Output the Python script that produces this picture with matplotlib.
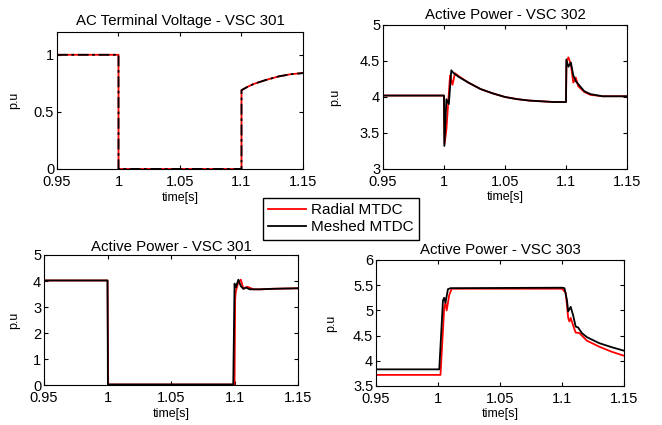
import matplotlib
matplotlib.use("Agg")
import matplotlib.pyplot as plt

plt.rcParams['font.family'] = ['Liberation Sans', 'DejaVu Sans']

# AC terminal voltage - VSC 301 (both cases identical)
t_v = [0.95, 1.0, 1.0, 1.1, 1.1, 1.105, 1.11, 1.12, 1.13, 1.14, 1.15]
v_radial = [1.0, 1.0, 0.0, 0.0, 0.69, 0.72, 0.745, 0.78, 0.81, 0.83, 0.84]
v_meshed = [1.0, 1.0, 0.0, 0.0, 0.69, 0.72, 0.745, 0.78, 0.81, 0.83, 0.84]

# Active power - VSC 302
t_302_r = [0.95, 1.0, 1.0005, 1.002, 1.005, 1.007, 1.009, 1.012, 1.02, 1.03, 1.04, 1.05,
           1.06, 1.07, 1.08, 1.09, 1.1, 1.1005, 1.102, 1.104, 1.106, 1.108, 1.11,
           1.115, 1.12, 1.13, 1.15]
p_302_r = [4.02, 4.02, 3.35, 3.55, 4.3, 4.17, 4.33, 4.29, 4.2, 4.11, 4.05, 4.0,
           3.97, 3.95, 3.94, 3.93, 3.93, 4.5, 4.55, 4.45, 4.2, 4.27, 4.15,
           4.07, 4.03, 4.01, 4.01]
t_302_m = [0.95, 1.0, 1.0003, 1.002, 1.004, 1.006, 1.008, 1.012, 1.02, 1.03, 1.04, 1.05,
           1.06, 1.07, 1.08, 1.09, 1.1, 1.1003, 1.102, 1.104, 1.106, 1.108, 1.11,
           1.115, 1.12, 1.13, 1.15]
p_302_m = [4.02, 4.02, 3.32, 3.97, 3.9, 4.37, 4.33, 4.28, 4.2, 4.11, 4.05, 4.0,
           3.97, 3.95, 3.94, 3.93, 3.93, 4.52, 4.42, 4.48, 4.3, 4.22, 4.18,
           4.08, 4.04, 4.01, 4.01]

# Active power - VSC 301
t_301_r = [0.95, 1.0, 1.0005, 1.1, 1.1005, 1.101, 1.103, 1.105, 1.107, 1.11, 1.115,
           1.12, 1.13, 1.15]
p_301_r = [4.02, 4.02, 0.02, 0.02, 3.3, 3.6, 3.95, 4.05, 3.7, 3.78, 3.68,
           3.68, 3.7, 3.72]
t_301_m = [0.95, 1.0, 1.0003, 1.099, 1.1, 1.101, 1.103, 1.105, 1.107, 1.109, 1.112,
           1.12, 1.13, 1.15]
p_301_m = [4.02, 4.02, 0.02, 0.02, 3.9, 3.75, 4.05, 3.8, 3.7, 3.75, 3.68,
           3.68, 3.7, 3.72]

# Active power - VSC 303
t_303_r = [0.95, 1.002, 1.005, 1.006, 1.007, 1.009, 1.011, 1.1, 1.103, 1.105, 1.106,
           1.107, 1.109, 1.111, 1.114, 1.12, 1.13, 1.14, 1.15]
p_303_r = [3.72, 3.72, 5.05, 5.15, 5.0, 5.3, 5.43, 5.43, 5.35, 4.85, 4.78,
           4.85, 4.7, 4.56, 4.55, 4.4, 4.28, 4.18, 4.1]
t_303_m = [0.95, 1.001, 1.004, 1.005, 1.006, 1.008, 1.01, 1.1, 1.102, 1.104, 1.105,
           1.107, 1.109, 1.111, 1.113, 1.116, 1.12, 1.13, 1.14, 1.15]
p_303_m = [3.83, 3.83, 5.2, 5.25, 5.15, 5.42, 5.44, 5.45, 5.44, 5.2, 4.98,
           5.07, 4.9, 4.68, 4.66, 4.55, 4.47, 4.35, 4.27, 4.2]

xticks = [0.95, 1.0, 1.05, 1.1, 1.15]
xticklabels = ['0.95', '1', '1.05', '1.1', '1.15']

fig = plt.figure(figsize=(6.62, 4.25), dpi=100)

ax1 = fig.add_axes([0.0861, 0.6024, 0.3716, 0.3224])
ax2 = fig.add_axes([0.5785, 0.6024, 0.3686, 0.3388])
ax3 = fig.add_axes([0.0665, 0.0941, 0.3837, 0.3059])
ax4 = fig.add_axes([0.5680, 0.0918, 0.3746, 0.2965])

lw = 1.3
ax1.plot(t_v, v_radial, color='red', lw=lw)
ax1.plot(t_v, v_meshed, color='black', lw=lw, ls=(0, (6, 2, 1.5, 2)))
ax1.set_ylim(0, 1.2)
ax1.set_yticks([0, 0.5, 1])
ax1.set_yticklabels(['0', '0.5', '1'])
ax1.set_title('AC Terminal Voltage - VSC 301', fontsize=10.8, pad=5)

l1, = ax2.plot(t_302_r, p_302_r, color='red', lw=lw)
l2, = ax2.plot(t_302_m, p_302_m, color='black', lw=lw)
ax2.set_ylim(3, 5)
ax2.set_yticks([3, 3.5, 4, 4.5, 5])
ax2.set_yticklabels(['3', '3.5', '4', '4.5', '5'])
ax2.set_title('Active Power - VSC 302', fontsize=10.8, pad=4)

ax3.plot(t_301_r, p_301_r, color='red', lw=lw)
ax3.plot(t_301_m, p_301_m, color='black', lw=lw)
ax3.set_ylim(0, 5)
ax3.set_yticks([0, 1, 2, 3, 4, 5])
ax3.set_title('Active Power - VSC 301', fontsize=10.8, pad=3)

ax4.plot(t_303_r, p_303_r, color='red', lw=lw)
ax4.plot(t_303_m, p_303_m, color='black', lw=lw)
ax4.set_ylim(3.5, 6)
ax4.set_yticks([3.5, 4, 4.5, 5, 5.5, 6])
ax4.set_yticklabels(['3.5', '4', '4.5', '5', '5.5', '6'])
ax4.set_title('Active Power - VSC 303', fontsize=10.8, pad=4)

# label positions in axes fraction (x of ylabel, y of xlabel top)
ylab_x = [-0.150, -0.172, -0.094, -0.157]
xlab_y = [-0.168, -0.153, -0.177, -0.175]

for ax, yx, xy in zip((ax1, ax2, ax3, ax4), ylab_x, xlab_y):
    ax.set_xlim(0.95, 1.15)
    ax.set_xticks(xticks)
    ax.set_xticklabels(xticklabels)
    ax.tick_params(direction='in', top=True, right=True, labelsize=10.5,
                   length=3, width=0.8)
    ax.tick_params(axis='x', pad=4)
    ax.tick_params(axis='y', pad=2)
    ax.set_xlabel('time[s]', fontsize=9)
    ax.set_ylabel('p.u', fontsize=9)
    ax.yaxis.set_label_coords(yx, 0.5)
    ax.xaxis.set_label_coords(0.5, xy)
    for s in ax.spines.values():
        s.set_linewidth(0.8)

fig.legend([l1, l2], ['Radial MTDC', 'Meshed MTDC'], loc='upper left',
           bbox_to_anchor=(0.397, 0.534), fontsize=11, fancybox=False,
           edgecolor='black', framealpha=1, borderpad=0.35, labelspacing=0.2,
           handlelength=2.5, handletextpad=0.3, borderaxespad=0)

fig.savefig('out.png', dpi=100)
